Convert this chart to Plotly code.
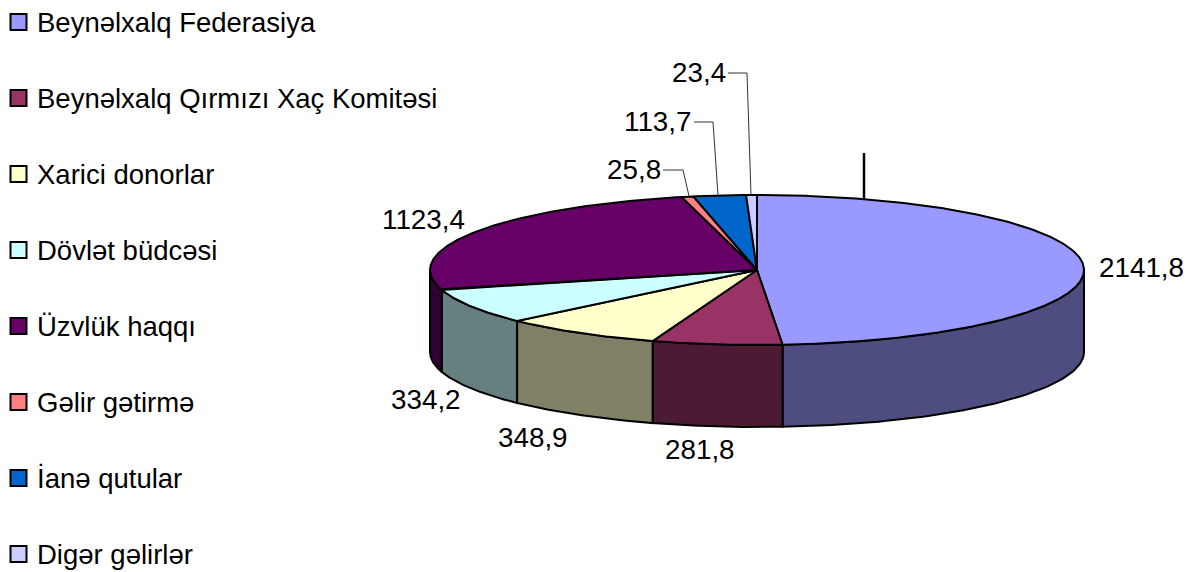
import numpy as np
import plotly.graph_objects as go

categories = ["Beynəlxalq Federasiya", "Beynəlxalq Qırmızı Xaç Komitəsi", "Xarici donorlar",
              "Dövlət büdcəsi", "Üzvlük haqqı", "Gəlir gətirmə", "İanə qutular", "Digər gəlirlər"]
values = [2141.8, 281.8, 348.9, 334.2, 1123.4, 25.8, 113.7, 23.4]
top_colors = ["#9999FF", "#993366", "#FFFFCC", "#CCFFFF", "#660066", "#FF8080", "#0066CC", "#CCCCFF"]
side_colors = ["#4D4D80", "#4D1A33", "#808066", "#668080", "#330033", "#804040", "#003366", "#666680"]

CX, CY, RX, RY, DEPTH = 757, 270, 327, 75, 82
FONT = "Liberation Sans"
FS = 27.5
LABEL_FS = 27.8
LEG_X, LEG_TEXT_X, LEG_Y0, LEG_DY = 18.5, 37, 22, 76


def ell(theta_deg, dy=0):
    t = np.radians(theta_deg)
    return CX + RX * np.sin(t), CY - RY * np.cos(t) + dy


fractions = np.array(values) / sum(values) * 360
ends = np.cumsum(fractions)
starts = ends - fractions

fig = go.Figure()

# side walls (front half of the disc only)
for s, e, col in zip(starts, ends, side_colors):
    a, b = max(s, 90), min(e, 270)
    if b <= a:
        continue
    th = np.linspace(a, b, 80)
    x1, y1 = ell(th)
    x2, y2 = ell(th[::-1], DEPTH)
    fig.add_trace(go.Scatter(x=np.r_[x1, x2, x1[0]], y=np.r_[y1, y2, y1[0]], mode="lines", fill="toself",
                             fillcolor=col, line=dict(color="black", width=2),
                             showlegend=False, hoverinfo="skip"))

# top faces
for s, e, col, name in zip(starts, ends, top_colors, categories):
    th = np.linspace(s, e, max(int(e - s) * 2, 6))
    x, y = ell(th)
    fig.add_trace(go.Scatter(x=np.r_[CX, x, CX], y=np.r_[CY, y, CY], mode="lines", fill="toself",
                             fillcolor=col, line=dict(color="black", width=2),
                             showlegend=False, name=name, hoverinfo="name"))

# legend column
rows = LEG_Y0 + LEG_DY * np.arange(len(categories))
fig.add_trace(go.Scatter(x=[LEG_X] * len(categories), y=rows, mode="markers", showlegend=False, hoverinfo="skip",
                         marker=dict(symbol="square", size=16, color=top_colors,
                                     line=dict(color="black", width=2))))
for name, ry in zip(categories, rows):
    fig.add_annotation(x=LEG_TEXT_X, y=ry, text=name, showarrow=False, xref="x", yref="y", xanchor="left",
                       xshift=-2, font=dict(family=FONT, size=FS, color="black"))

labels = [f"{v:.1f}".replace(".", ",") for v in values]
label_pos = [(1141, 267), (700, 449), (532.5, 437), (426, 399), (423.5, 219), (634, 169), (657.5, 121), (699, 72)]
for txt, (px, py) in zip(labels, label_pos):
    fig.add_annotation(x=px, y=py, text=txt, showarrow=False, xref="x", yref="y",
                       font=dict(family=FONT, size=LABEL_FS, color="black"))

leaders = [[(663, 170), (683, 170), (689, 196)],
           [(694, 122), (713, 122), (718, 195)],
           [(728, 73), (747, 73), (751, 195)]]
shapes = []
for pts in leaders:
    for p, q in zip(pts[:-1], pts[1:]):
        shapes.append(dict(type="line", x0=p[0], y0=p[1], x1=q[0], y1=q[1], xref="x", yref="y",
                           line=dict(color="#333333", width=1)))
shapes.append(dict(type="line", x0=864, y0=153, x1=864, y1=199, xref="x", yref="y",
                   line=dict(color="black", width=2.5)))

fig.update_layout(
    width=1191, height=572, margin=dict(l=0, r=0, t=0, b=0), showlegend=False,
    paper_bgcolor="white", plot_bgcolor="white", shapes=shapes,
    xaxis=dict(range=[0, 1191], visible=False, fixedrange=True),
    yaxis=dict(range=[572, 0], visible=False, fixedrange=True),
    font=dict(family=FONT, size=FS, color="black"),
)
fig.write_html("out.html", config={"displayModeBar": False},
               post_script="document.body.style.margin='0';document.documentElement.style.overflow='hidden';")
